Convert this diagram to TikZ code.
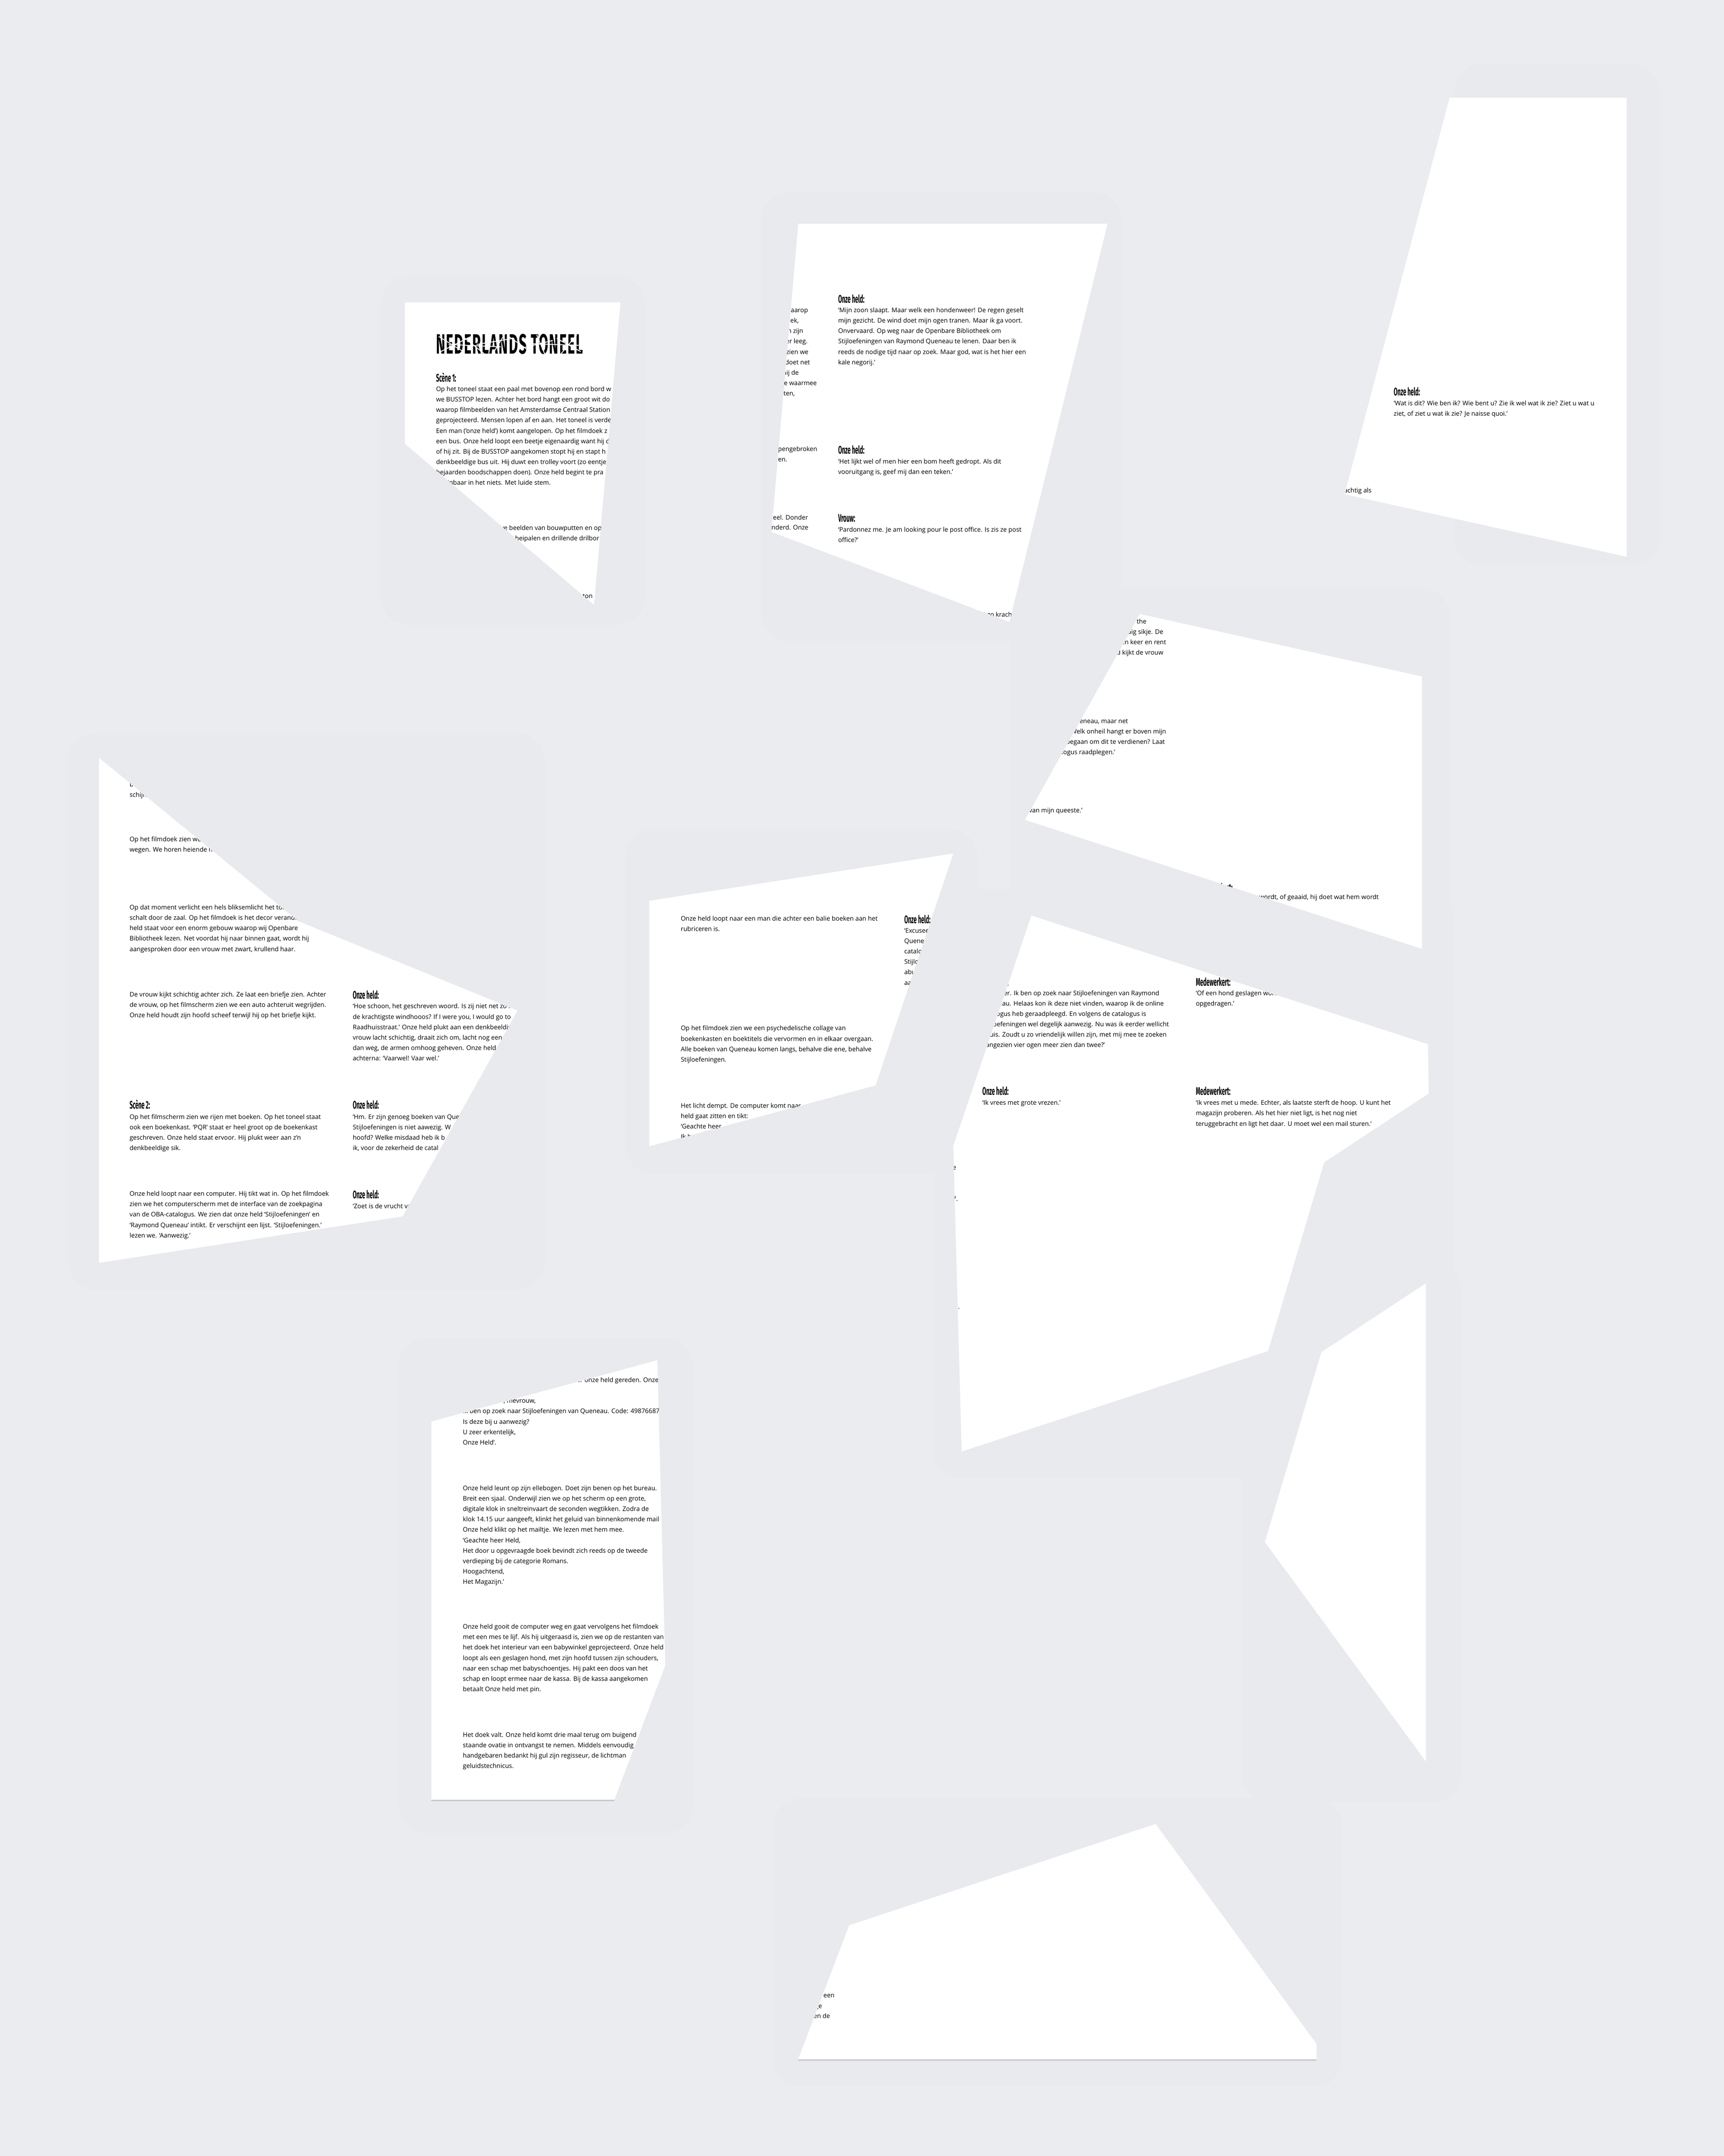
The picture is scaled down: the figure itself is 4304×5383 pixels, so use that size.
\documentclass[tikz,border=0pt]{standalone}
\usepackage{fontspec}
\setmainfont{Open Sans}
\newfontfamily\headfont[FakeStretch=0.5]{Fira Sans}

\definecolor{achtergrond}{HTML}{EBECEF}
\definecolor{schaduw}{HTML}{E9EAEE}
\definecolor{onderrand}{HTML}{C6C7CD}

\tikzset{
  txt/.style={anchor=base west, inner sep=0pt, font=\fontsize{4.5}{5}\selectfont},
  txtr/.style={txt, anchor=base east},
  kop/.style={anchor=base west, inner sep=0pt, font=\headfont\bfseries\fontsize{7.8}{9}\selectfont},
  titel/.style={kop, font=\headfont\bfseries\fontsize{19.8}{20}\selectfont\addfontfeature{LetterSpace=3}},
  papier/.style={fill=white},
  halo/.style={fill=schaduw, rounded corners=20},
  rand/.style={draw=onderrand, line width=1pt},
  barst/.style={draw=white, line width=0.6pt}
}

% regels van een alinea, 26 px onder elkaar
\newcommand\alinea[4]{\foreach \regel [count=\i] in {#4}{\node[txt] (#1-\i) at (#2,{#3+26*(\i-1)}) {\regel};}}

% scherven
\def\fragA{(1011,755) -- (1549,755) -- (1483,1510) -- (1011,1108) -- cycle}
\def\fragB{(1993,559) -- (2765,559) -- (2520,1553) -- (1926,1328) -- cycle}
\def\fragC{(3619,244) -- (4061,244) -- (4061,1390) -- (3357,1234) -- cycle}
\def\fragD{(2846,1533) -- (3550,1689) -- (3550,2369) -- (2559,2047) -- cycle}
\def\fragE{(247,1892) -- (745,2300) -- (1292,2523) -- (1005,3037) -- (247,3153) -- cycle}
\def\fragF{(1621,2249) -- (2380,2131) -- (2186,2710) -- (1621,2862) -- cycle}
\def\fragG{(2575,2286) -- (3565,2607) -- (3567,2730) -- (3306,2902) -- (3166,3373) -- (2401,3624) -- (2380,2861) -- cycle}
\def\fragH{(1077,3549) -- (1641,3396) -- (1661,4158) -- (1534,4493) -- (1077,4493) -- cycle}
\def\fragI{(3299,3376) -- (3560,3204) -- (3560,4398) -- (3158,3850) -- cycle}
\def\fragJ{(2885,4554) -- (3287,5103) -- (3287,5141) -- (1993,5141) -- (2120,4807) -- cycle}

\begin{document}
\begin{tikzpicture}[x=0.01cm, y=-0.01cm]
    % Achtergrond
    \useasboundingbox (0,0) rectangle (4304,5383);
    \fill[achtergrond] (0,0) rectangle (4304,5383);

    % Schaduwen
    \path[halo] (950,690) rectangle (1610,1560);
    \path[halo] (1900,480) rectangle (2800,1600);
    \path[halo] (3630,160) rectangle (4145,1410);
    \path[halo] (2520,1470) rectangle (3620,2420);
    \path[halo] (170,1830) rectangle (1360,3220);
    \path[halo] (1560,2070) rectangle (2440,2930);
    \path[halo] (2330,2220) rectangle (3630,3690);
    \path[halo] (995,3340) rectangle (1730,4577);
    \path[halo] (3100,3150) rectangle (3648,4500);
    \path[halo] (1930,4490) rectangle (3350,5210);

    % Scherf A: titel en scene 1
    \begin{scope}
        \fill[papier] \fragA;
        \clip \fragA;
        \node[titel] (titel) at (1088,883) {NEDERLANDS TONEEL};
        \foreach \xa/\ya/\xb/\yb in {1095/840/1160/880, 1100/878/1180/838, 1150/836/1210/884, 1190/860/1280/845, 1230/884/1260/834, 1270/840/1330/882, 1300/870/1380/850, 1340/836/1360/884, 1390/845/1450/878, 1400/884/1440/836, 1120/860/1250/866, 1320/858/1445/862}
            \draw[barst] (\xa,\ya) -- (\xb,\yb);
        \node[kop] (a-kop) at (1088,953) {Scène 1:};
        \alinea{a1}{1088}{977}{Op het toneel staat een paal met bovenop een rond bord w, we BUSSTOP lezen. Achter het bord hangt een groot wit do, waarop filmbeelden van het Amsterdamse Centraal Station, geprojecteerd. Mensen lopen af en aan. Het toneel is verde, Een man (‘onze held’) komt aangelopen. Op het filmdoek z, een bus. Onze held loopt een beetje eigenaardig want hij d, of hij zit. Bij de BUSSTOP aangekomen stopt hij en stapt h, denkbeeldige bus uit. Hij duwt een trolley voort (zo eentje, bejaarden boodschappen doen). Onze held begint te pra, schijnbaar in het niets. Met luide stem.}
        \alinea{a2}{1088}{1324}{Op het filmdoek zien we beelden van bouwputten en op, wegen. We horen heiende heipalen en drillende drilbor}
        \node[txt] (a3) at (1088,1494) {Op dat moment verlicht een hels bliksemlicht het ton};
    \end{scope}

    % Scherf B
    \begin{scope}
        \fill[papier] \fragB;
        \clip \fragB;
        \node[txtr] (b-l1) at (2018,780) {bord waarop};
        \node[txtr] (b-l2) at (1995,806) {wit doek,};
        \node[txtr] (b-l3) at (2006,832) {Station zijn};
        \node[txtr] (b-l4) at (2017,858) {is verder leeg.};
        \node[txtr] (b-l5) at (2019,884) {filmdoek zien we};
        \node[txtr] (b-l6) at (2023,910) {want hij doet net};
        \node[txtr] (b-l7) at (1995,936) {stapt hij de};
        \node[txtr] (b-l8) at (2040,962) {(zo eentje waarmee};
        \node[txtr] (b-l9) at (1985,988) {te praten,};
        \node[txtr] (b-l10) at (2041,1127) {en opengebroken};
        \node[txtr] (b-l11) at (1966,1153) {drilboren.};
        \node[txtr] (b-l12) at (2018,1298) {het toneel. Donder};
        \node[txtr] (b-l13) at (2019,1323) {veranderd. Onze};
        \node[txtr] (b-l14) at (2570,1540) {net zo krachtig als};
        \node[kop] (b-kop1) at (2092,756) {Onze held:};
        \alinea{b1}{2092}{780}{‘Mijn zoon slaapt. Maar welk een hondenweer! De regen geselt, mijn gezicht. De wind doet mijn ogen tranen. Maar ik ga voort., Onvervaard. Op weg naar de Openbare Bibliotheek om, Stijloefeningen van Raymond Queneau te lenen. Daar ben ik, {reeds de nodige tijd naar op zoek. Maar god, wat is het hier een}, kale negorij.’}
        \node[kop] (b-kop2) at (2092,1133) {Onze held:};
        \alinea{b2}{2092}{1158}{‘Het lijkt wel of men hier een bom heeft gedropt. Als dit, {vooruitgang is, geef mij dan een teken.’}}
        \node[kop] (b-kop3) at (2092,1303) {Vrouw:};
        \alinea{b3}{2092}{1328}{‘Pardonnez me. Je am looking pour le post office. Is zis ze post, office?’}
    \end{scope}

    % Scherf C
    \begin{scope}
        \fill[papier] \fragC;
        \clip \fragC;
        \node[kop] (c-kop) at (3479,988) {Onze held:};
        \alinea{c1}{3479}{1012}{‘Wat is dit? Wie ben ik? Wie bent u? Zie ik wel wat ik zie? Ziet u wat u, {ziet, of ziet u wat ik zie? Je naisse quoi.’}}
        \node[txtr] (c2) at (3425,1230) {krachtig als};
    \end{scope}

    % Scherf D
    \begin{scope}
        \fill[papier] \fragD;
        \clip \fragD;
        \node[txtr] (d1) at (2863,1557) {go to the};
        \node[txtr] (d2) at (2905,1583) {denkbeeldig sikje. De};
        \node[txtr] (d3) at (2912,1609) {nog een keer en rent};
        \node[txtr] (d4) at (2905,1635) {held kijkt de vrouw};
        \node[txtr] (d5) at (2817,1806) {Queneau, maar net};
        \node[txtr] (d6) at (2912,1832) {Welk onheil hangt er boven mijn};
        \node[txtr] (d7) at (2909,1858) {begaan om dit te verdienen? Laat};
        \node[txtr] (d8) at (2785,1884) {catalogus raadplegen.’};
        \node[txtr] (d9) at (2703,2029) {van mijn queeste.’};
        \node[kop] (d-kop) at (2990,2226) {Medewerkert:};
        \node[txtr] (d10) at (3443,2245) {geslagen wordt, of geaaid, hij doet wat hem wordt};
    \end{scope}

    % Scherf E: links midden
    \begin{scope}
        \fill[papier] \fragE;
        \clip \fragE;
        \alinea{e1}{323}{1964}{bejaarden boodschappen, schijnbaar in het niets.}
        \alinea{e2}{323}{2101}{Op het filmdoek zien we beelden, wegen. We horen heiende heipalen}
        \alinea{e3}{323}{2271}{Op dat moment verlicht een hels bliksemlicht het toneel., schalt door de zaal. Op het filmdoek is het decor veranderd., held staat voor een enorm gebouw waarop wij Openbare, {Bibliotheek lezen. Net voordat hij naar binnen gaat, wordt hij}, {aangesproken door een vrouw met zwart, krullend haar.}}
        \alinea{e4}{323}{2488}{De vrouw kijkt schichtig achter zich. Ze laat een briefje zien. Achter, {de vrouw, op het filmscherm zien we een auto achteruit wegrijden.}, Onze held houdt zijn hoofd scheef terwijl hij op het briefje kijkt.}
        \node[kop] (e-kop1) at (323,2768) {Scène 2:};
        \alinea{e5}{323}{2794}{Op het filmscherm zien we rijen met boeken. Op het toneel staat, ook een boekenkast. ‘PQR’ staat er heel groot op de boekenkast, geschreven. Onze held staat ervoor. Hij plukt weer aan z’n, denkbeeldige sik.}
        \alinea{e6}{323}{2986}{Onze held loopt naar een computer. Hij tikt wat in. Op het filmdoek, zien we het computerscherm met de interface van de zoekpagina, van de OBA-catalogus. We zien dat onze held ‘Stijloefeningen’ en, ‘Raymond Queneau’ intikt. Er verschijnt een lijst. ‘Stijloefeningen.’, lezen we. ‘Aanwezig.’}
        \node[kop] (e-kop2) at (880,2494) {Onze held:};
        \alinea{e7}{880}{2518}{{‘Hoe schoon, het geschreven woord. Is zij niet net zo k}, {de krachtigste windhooos? If I were you, I would go to}, Raadhuisstraat.’ Onze held plukt aan een denkbeeldig, {vrouw lacht schichtig, draait zich om, lacht nog een}, {dan weg, de armen omhoog geheven. Onze held}, achterna: ‘Vaarwel! Vaar wel.’}
        \node[kop] (e-kop3) at (880,2768) {Onze held:};
        \alinea{e8}{880}{2794}{‘Hm. Er zijn genoeg boeken van Que, Stijloefeningen is niet aawezig. W, hoofd? Welke misdaad heb ik b, {ik, voor de zekerheid de catal}}
        \node[kop] (e-kop4) at (880,2992) {Onze held:};
        \node[txt] (e9) at (880,3017) {‘Zoet is de vrucht van};
    \end{scope}

    % Scherf F: midden
    \begin{scope}
        \fill[papier] \fragF;
        \clip \fragF;
        \alinea{f1}{1699}{2299}{Onze held loopt naar een man die achter een balie boeken aan het, rubriceren is.}
        \alinea{f2}{1699}{2573}{Op het filmdoek zien we een psychedelische collage van, boekenkasten en boektitels die vervormen en in elkaar overgaan., {Alle boeken van Queneau komen langs, behalve die ene, behalve}, Stijloefeningen.}
        \alinea{f3}{1699}{2766}{Het licht dempt. De computer komt naar, held gaat zitten en tikt:, {‘Geachte heer,}, Ik ben op zoek}
        \node[kop] (f-kop) at (2257,2305) {Onze held:};
        \alinea{f4}{2257}{2329}{‘Excuseer. Ik ben, Queneau. Helaas, catalogus heb, Stijloefeningen, abuis. Zoudt, aangezien}
    \end{scope}

    % Scherf G: medewerker
    \begin{scope}
        \fill[papier] \fragG;
        \clip \fragG;
        \node[txtr] (g-l1) at (2388,2920) {Onze};
        \node[txtr] (g-l2) at (2392,2999) {87.};
        \node[txtr] (g-l3) at (2397,3268) {mail.};
        \node[kop] (g-kop1) at (2452,2462) {Onze held:};
        \alinea{g1}{2452}{2485}{‘Excuseer. Ik ben op zoek naar Stijloefeningen van Raymond, {Queneau. Helaas kon ik deze niet vinden, waarop ik de online}, catalogus heb geraadpleegd. En volgens de catalogus is, Stijloefeningen wel degelijk aanwezig. Nu was ik eerder wellicht, {abuis. Zoudt u zo vriendelijk willen zijn, met mij mee te zoeken}, aangezien vier ogen meer zien dan twee?’}
        \node[kop] (g-kop2) at (2452,2734) {Onze held:};
        \node[txt] (g2) at (2452,2759) {‘Ik vrees met grote vrezen.’};
        \node[kop] (g-kop3) at (2985,2462) {Medewerkert:};
        \alinea{g3}{2985}{2485}{{‘Of een hond geslagen wordt, of geaaid,}, opgedragen.’}
        \node[kop] (g-kop4) at (2985,2734) {Medewerkert:};
        \alinea{g4}{2985}{2759}{{‘Ik vrees met u mede. Echter, als laatste sterft de hoop. U kunt het}, {magazijn proberen. Als het hier niet ligt, is het nog niet}, teruggebracht en ligt het daar. U moet wel een mail sturen.’}
    \end{scope}

    % Scherf H: links onder
    \begin{scope}
        \fill[papier] \fragH;
        \clip \fragH;
        \node[txtr] (h0) at (1645,3451) {naar onze held gereden. Onze};
        \alinea{h1}{1155}{3503}{{‘Geachte heer, mevrouw,}, Ik ben op zoek naar Stijloefeningen van Queneau. Code: 49876687, Is deze bij u aanwezig?, {U zeer erkentelijk,}, Onze Held’.}
        \alinea{h2}{1155}{3721}{Onze held leunt op zijn ellebogen. Doet zijn benen op het bureau., {Breit een sjaal. Onderwijl zien we op het scherm op een grote,}, digitale klok in sneltreinvaart de seconden wegtikken. Zodra de, {klok 14.15 uur aangeeft, klinkt het geluid van binnenkomende mail}, Onze held klikt op het mailtje. We lezen met hem mee., {‘Geachte heer Held,}, Het door u opgevraagde boek bevindt zich reeds op de tweede, verdieping bij de categorie Romans., {Hoogachtend,}, Het Magazijn.’}
        \alinea{h3}{1155}{4067}{Onze held gooit de computer weg en gaat vervolgens het filmdoek, {met een mes te lijf. Als hij uitgeraasd is, zien we op de restanten van}, het doek het interieur van een babywinkel geprojecteerd. Onze held, {loopt als een geslagen hond, met zijn hoofd tussen zijn schouders,}, naar een schap met babyschoentjes. Hij pakt een doos van het, schap en loopt ermee naar de kassa. Bij de kassa aangekomen, betaalt Onze held met pin.}
        \alinea{h4}{1155}{4337}{Het doek valt. Onze held komt drie maal terug om buigend, staande ovatie in ontvangst te nemen. Middels eenvoudig, {handgebaren bedankt hij gul zijn regisseur, de lichtman}, geluidstechnicus.}
    \end{scope}
    \draw[rand] (1077,4495) -- (1534,4495);

    % Scherf I: leeg
    \fill[papier] \fragI;

    % Scherf J: onder
    \begin{scope}
        \fill[papier] \fragJ;
        \clip \fragJ;
        \node[txtr] (j1) at (2084,4987) {een};
        \node[txtr] (j2) at (2053,5014) {ige};
        \node[txtr] (j3) at (2073,5039) {en de};
    \end{scope}
    \draw[rand] (1993,5143) -- (3287,5143);
\end{tikzpicture}
\end{document}
